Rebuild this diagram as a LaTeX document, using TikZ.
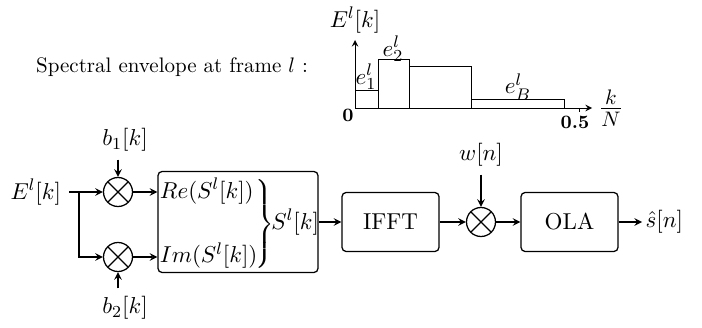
\documentclass[11pt,tikz,border=0pt]{standalone}
\usetikzlibrary{arrows}

\tikzset{
  mult/.style={circle, draw, semithick, minimum size=13.8pt, inner sep=0pt,
    path picture={\draw[semithick] (path picture bounding box.north west) -- (path picture bounding box.south east)
      (path picture bounding box.north east) -- (path picture bounding box.south west);}},
  block/.style={draw, semithick, rounded corners=2pt, minimum width=46.2pt, minimum height=28.1pt},
  ticklabel/.style={font=\footnotesize\bfseries},
  sig/.style={semithick, ->},
}

\begin{document}
\begin{tikzpicture}[x=0.476pt, y=0.476pt, >=stealth]
  \useasboundingbox (0,0) rectangle (702,327);
  % spectral envelope
  \node[anchor=east, font=\small] (title) at (316,260) {Spectral envelope at frame $l$ :};
  \draw[->] (355,219) -- (355,287);
  \draw[->] (355,219) -- (592,219);
  \draw (355,219) rectangle (378.7,236.3);
  \draw (378.7,219) rectangle (409.7,267.7);
  \draw (409.7,219) rectangle (471.7,260.7);
  \draw (471.7,219) rectangle (564,227.7);
  \draw (579,219) -- (579,215);
  \node[ticklabel] (zero) at (348,212) {0};
  \node[ticklabel] (half) at (575,205) {0.5};
  \node (envaxis) at (355,307) {$E^l[k]$};
  \node (e1) at (366,250) {$e_1^l$};
  \node (e2) at (393,278) {$e_2^l$};
  \node (eB) at (518,240) {$e_B^l$};
  \node[font=\Large] (kN) at (611,219) {$\frac{k}{N}$};

  % synthese
  \node[anchor=east] (env) at (69,135) {$E^l[k]$};
  \coordinate (split) at (79,135);
  \node[mult] (m1) at (118,135) {};
  \node[mult] (m2) at (118,70) {};
  \node (b1) at (125,187) {$b_1[k]$};
  \node (b2) at (125,19) {$b_2[k]$};
  \node[block, minimum width=76.2pt, minimum height=48.1pt] (synth) at (238,105) {};
  \node[anchor=west, inner sep=0pt] (parts) at (159.5,102.5)
    {$\begin{array}{@{}l@{}} Re(S^l[k])\\[17pt] Im(S^l[k])\end{array}$};
  \node[anchor=west, inner sep=0pt] (brace) at (255,103)
    {$\nulldelimiterspace=0pt\left.\vcenter{\hbox{\rule{0pt}{43pt}}}\right\}$};
  \node[anchor=west, inner sep=0.5pt] (sl) at (270,105) {$S^l[k]$};
  \node[block] (ifft) at (390.5,105) {IFFT};
  \node[mult] (m3) at (481,105) {};
  \node (w) at (481,172) {$w[n]$};
  \node[block] (ola) at (569.5,105) {OLA};
  \node[anchor=west, inner sep=1.5pt] (out) at (642,105) {$\hat{s}[n]$};

  \draw[sig] (env) -- (m1);
  \draw[sig] (split) |- (m2);
  \draw[sig] (m1 |- b1.south) -- (m1);
  \draw[sig] (m2 |- b2.north) -- (m2);
  \draw[sig] (m1) -- (m1 -| synth.west);
  \draw[sig] (m2) -- (m2 -| synth.west);
  \draw[sig] (synth) -- (ifft);
  \draw[sig] (ifft) -- (m3);
  \draw[sig] (w) -- (m3);
  \draw[sig] (m3) -- (ola);
  \draw[sig] (ola) -- (out);
\end{tikzpicture}
\end{document}
